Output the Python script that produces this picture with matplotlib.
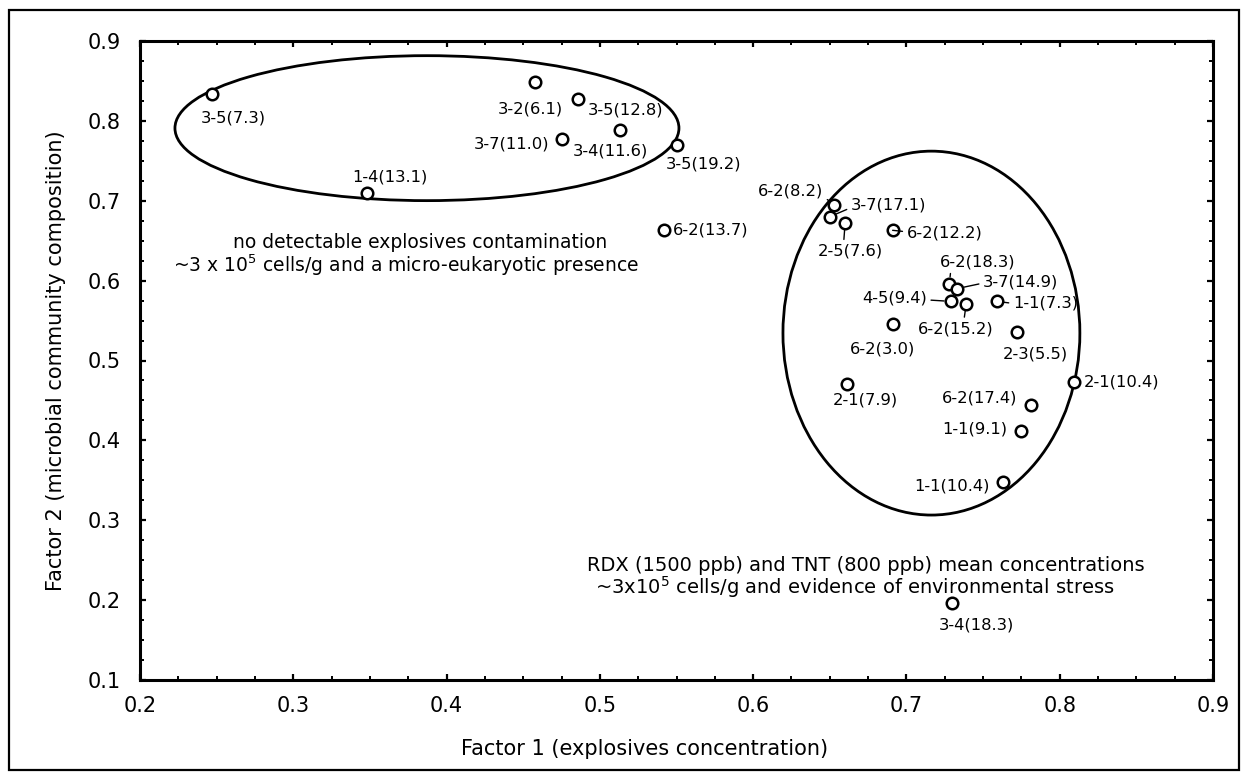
import matplotlib
matplotlib.use("Agg")
import matplotlib.pyplot as plt
from matplotlib.patches import Ellipse, Rectangle
from matplotlib.ticker import MultipleLocator, FixedLocator

plt.rcParams['font.family'] = ['DejaVu Sans']
plt.rcParams['mathtext.fontset'] = 'dejavusans'

# ---------------- data ----------------
sample_labels = ["3-5(7.3)", "3-2(6.1)", "3-5(12.8)", "3-7(11.0)", "3-4(11.6)",
                 "3-5(19.2)", "1-4(13.1)", "6-2(13.7)", "6-2(8.2)", "3-7(17.1)",
                 "2-5(7.6)", "6-2(12.2)", "6-2(18.3)", "3-7(14.9)", "4-5(9.4)",
                 "6-2(15.2)", "1-1(7.3)", "6-2(3.0)", "2-3(5.5)", "2-1(10.4)",
                 "2-1(7.9)", "6-2(17.4)", "1-1(9.1)", "1-1(10.4)", "3-4(18.3)"]
factor1 = [0.247, 0.458, 0.486, 0.475, 0.513,
           0.550, 0.348, 0.542, 0.653, 0.650,
           0.660, 0.691, 0.728, 0.733, 0.729,
           0.739, 0.759, 0.691, 0.772, 0.809,
           0.661, 0.781, 0.775, 0.763, 0.730]
factor2 = [0.834, 0.849, 0.827, 0.777, 0.789,
           0.770, 0.710, 0.664, 0.695, 0.680,
           0.672, 0.663, 0.596, 0.590, 0.574,
           0.571, 0.574, 0.546, 0.536, 0.473,
           0.470, 0.444, 0.412, 0.348, 0.196]

x_ticks = [0.2, 0.3, 0.4, 0.5, 0.6, 0.7, 0.8, 0.9]
x_tick_labels = ["0.2", "0.3", "0.4", "0.5", "0.6", "0.7", "0.8", "0.9"]
y_ticks = [0.1, 0.2, 0.3, 0.4, 0.5, 0.6, 0.7, 0.8, 0.9]
y_tick_labels = ["0.1", "0.2", "0.3", "0.4", "0.5", "0.6", "0.7", "0.8", "0.9"]

x_label = "Factor 1 (explosives concentration)"
y_label = "Factor 2 (microbial community composition)"

# grouping ellipses (data units)
cluster_cx = [0.3872, 0.7163]
cluster_cy = [0.7909, 0.5343]
cluster_w = [0.3288, 0.1937]
cluster_h = [0.1815, 0.4556]

upper_note = ["no detectable explosives contamination",
              "~3 x 10$^5$ cells/g and a micro-eukaryotic presence"]
lower_note = ["RDX (1500 ppb) and TNT (800 ppb) mean concentrations",
              "~3x10$^5$ cells/g and evidence of environmental stress"]

# ---------------- label layout (pixels: dx right, dy down) ----------------
# (dx, dy, ha, leader anchor on the text box, leader shrink at the point)
label_layout = [
    (21, 24, 'center', None, 5),
    (-5, 27, 'center', None, 5),
    (9, 11, 'left', None, 5),
    (-12, 5, 'right', None, 5),
    (-9, 21, 'center', None, 5),
    (-11, 19, 'left', None, 5),
    (23, -16, 'center', None, 5),
    (9, 0, 'left', None, 5),
    (-11, -14, 'right', (1.0, 0.1), 5),
    (21, -12, 'left', (0.0, 0.3), 5),
    (5, 28, 'center', (0.4, 1.0), 5),
    (14, 3, 'left', (0.0, 0.6), 0),
    (28, -22, 'center', (0.15, 0.0), 5),
    (26, -7, 'left', (0.0, 0.4), 5),
    (-24, -3, 'right', (1.0, 0.4), 5),
    (-10, 25, 'center', (0.6, 1.0), 5),
    (16, 2, 'left', (0.0, 0.5), 5),
    (-10, 25, 'center', None, 5),
    (19, 22, 'center', None, 5),
    (10, 0, 'left', None, 5),
    (19, 16, 'center', None, 5),
    (-13, -7, 'right', None, 5),
    (-14, -2, 'right', None, 5),
    (-13, 4, 'right', None, 5),
    (24, 22, 'center', None, 5),
]

# ---------------- figure ----------------
W, H, DPI = 1248, 780, 100
fig = plt.figure(figsize=(W / DPI, H / DPI), dpi=DPI)
fig.patch.set_facecolor('white')

ax_left, ax_right, ax_top, ax_bottom = 140, 1213, 41, 680
ax = fig.add_axes([ax_left / W, 1 - ax_bottom / H,
                   (ax_right - ax_left) / W, (ax_bottom - ax_top) / H])

ax.plot(factor1, factor2, linestyle='none', marker='o', markersize=8.3,
        markerfacecolor='white', markeredgecolor='black', markeredgewidth=1.8,
        zorder=3)

for cx, cy, w, h in zip(cluster_cx, cluster_cy, cluster_w, cluster_h):
    ax.add_patch(Ellipse((cx, cy), w, h, fill=False, edgecolor='black',
                         linewidth=2.0, zorder=2))

for lab, x, y, (dx, dy, ha, rel, shr) in zip(sample_labels, factor1, factor2, label_layout):
    kw = dict(xy=(x, y), xytext=(dx, -dy), textcoords='offset pixels',
              ha=ha, va='center', fontsize=11.8, color='black', zorder=4)
    if rel is not None:
        kw['arrowprops'] = dict(arrowstyle='-', color='black', lw=1.0,
                                shrinkA=1, shrinkB=shr, relpos=rel)
    ax.annotate(lab, **kw)


def px2data(px, py):
    return (0.2 + (px - ax_left) / (ax_right - ax_left) * 0.7,
            0.1 + (ax_bottom - py) / (ax_bottom - ax_top) * 0.8)


for txt, (px, py) in zip(upper_note, [(420, 248), (406, 272)]):
    ax.text(*px2data(px, py), txt, ha='center', va='baseline', fontsize=13.5)
for txt, (px, py) in zip(lower_note, [(866, 571), (855, 594)]):
    ax.text(*px2data(px, py), txt, ha='center', va='baseline', fontsize=14.0)

ax.set_xlim(0.2, 0.9)
ax.set_ylim(0.1, 0.9)
ax.xaxis.set_major_locator(FixedLocator(x_ticks))
ax.set_xticklabels(x_tick_labels)
ax.yaxis.set_major_locator(FixedLocator(y_ticks))
ax.set_yticklabels(y_tick_labels)
ax.xaxis.set_minor_locator(MultipleLocator(0.025))
ax.yaxis.set_minor_locator(MultipleLocator(0.025))

ax.tick_params(which='both', direction='in', top=True, right=True, colors='black')
ax.tick_params(which='major', length=4.5, width=1.6, labelsize=15)
ax.tick_params(which='minor', length=3.0, width=1.4)
ax.tick_params(axis='x', which='major', pad=11.5)
ax.tick_params(axis='y', which='major', pad=14)

for sp in ax.spines.values():
    sp.set_linewidth(2.2)
    sp.set_color('black')

ax.set_xlabel(x_label, fontsize=15)
ax.set_ylabel(y_label, fontsize=15)
ax.xaxis.set_label_coords(0.47, -0.092)
ax.yaxis.set_label_coords(-0.069, 0.5)

# outer frame around the whole figure
fig.patches.append(Rectangle((9 / W, 10 / H), 1230 / W, 760 / H, transform=fig.transFigure,
                             fill=False, edgecolor='black', linewidth=1.6))

fig.savefig("out.png", dpi=DPI, facecolor='white')
